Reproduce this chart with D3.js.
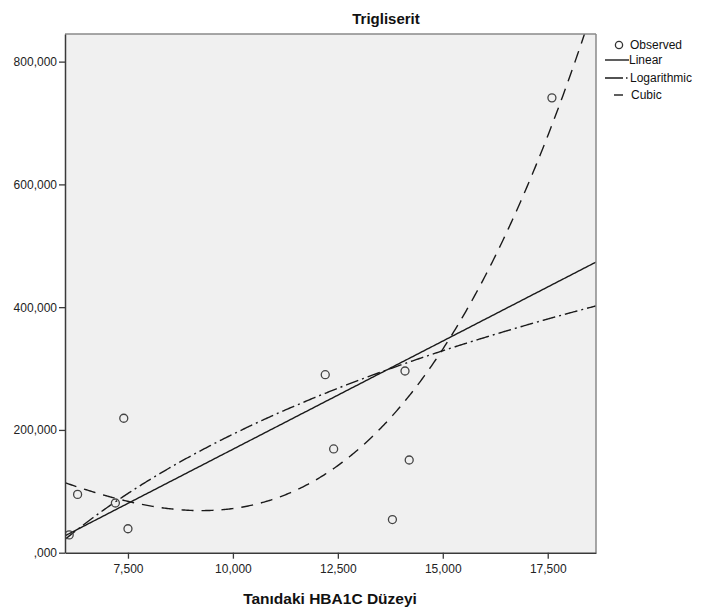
<!DOCTYPE html>
<html><head><meta charset="utf-8">
<script src="https://cdn.jsdelivr.net/npm/d3@7"></script>
<style>body{margin:0;background:#fff}svg{display:block}text{font-family:"Liberation Sans",Arial,sans-serif}</style>
</head><body><svg id="c" width="705" height="615"></svg>
<script>
// Observed data (HbA1c vs triglyceride)
const hba1c = [6.1, 6.3, 7.2, 7.4, 7.5, 12.2, 12.4, 13.8, 14.1, 14.2, 17.6];
const trig  = [29, 95, 81, 219, 39, 290, 169, 54, 296, 151, 741];
const xTicks = [7.5, 10, 12.5, 15, 17.5];
const yTicks = [0, 200, 400, 600, 800];
const legendItems = ["Observed", "Linear", "Logarithmic", "Cubic"];
const titleText = "Trigliserit";
const xTitle = "Tanıdaki HBA1C Düzeyi";

const svg = d3.select("#c");
const L = 65, R = 596, T = 34, B = 552.7;
const x = d3.scaleLinear().domain([6.0, 18.65]).range([L, R]);
const y = d3.scaleLinear().domain([0, 845]).range([B, T]);

const loc = d3.formatLocale({decimal: ",", thousands: ".", grouping: [3], currency: ["", ""]});
const f3 = loc.format(".3f");
const fmt = v => { const s = f3(v); return s.startsWith("0,") ? s.slice(1) : s; };

// least squares fit: basis functions
function fit(basis) {
  const n = basis.length;
  const A = Array.from({length: n}, () => new Array(n + 1).fill(0));
  hba1c.forEach((xv, i) => {
    const row = basis.map(b => b(xv));
    for (let r = 0; r < n; r++) {
      for (let c = 0; c < n; c++) A[r][c] += row[r] * row[c];
      A[r][n] += row[r] * trig[i];
    }
  });
  for (let p = 0; p < n; p++) {
    let m = p;
    for (let r = p + 1; r < n; r++) if (Math.abs(A[r][p]) > Math.abs(A[m][p])) m = r;
    [A[p], A[m]] = [A[m], A[p]];
    for (let r = 0; r < n; r++) if (r !== p) {
      const k = A[r][p] / A[p][p];
      for (let c = p; c <= n; c++) A[r][c] -= k * A[p][c];
    }
  }
  const coef = A.map((row, i) => row[n] / row[i]);
  return xv => basis.reduce((s, b, i) => s + coef[i] * b(xv), 0);
}
const linF = fit([v => 1, v => v]);
const logF = fit([v => 1, v => Math.log(v)]);
// cubic model as estimated (linear term dropped for tolerance)
const cubF = fit([v => 1, v => v * v, v => v * v * v]);

// plot background
svg.append("rect").attr("x", L).attr("y", T).attr("width", R - L).attr("height", B - T)
  .attr("fill", "#f0f0f0");

svg.append("defs").append("clipPath").attr("id", "clip")
  .append("rect").attr("x", L).attr("y", T).attr("width", R - L).attr("height", B - T);

const g = svg.append("g").attr("clip-path", "url(#clip)");
const xs = d3.range(0, 401).map(i => x.domain()[0] + (x.domain()[1] - x.domain()[0]) * i / 400);
const line = fn => d3.line().x(d => x(d)).y(d => y(fn(d)))(xs);

g.append("path").attr("d", line(linF)).attr("fill", "none").attr("stroke", "#1a1a1a").attr("stroke-width", 1.4);
g.append("path").attr("d", line(logF)).attr("fill", "none").attr("stroke", "#1a1a1a").attr("stroke-width", 1.4)
  .attr("stroke-dasharray", "13,4,2,4");
g.append("path").attr("d", line(cubF)).attr("fill", "none").attr("stroke", "#1a1a1a").attr("stroke-width", 1.4)
  .attr("stroke-dasharray", "12,8");

g.selectAll("circle.obs").data(hba1c).join("circle").attr("class", "obs")
  .attr("cx", d => x(d)).attr("cy", (d, i) => y(trig[i])).attr("r", 4)
  .attr("fill", "none").attr("stroke", "#444").attr("stroke-width", 1.3);

// frame: top/right lighter
svg.append("line").attr("x1", L).attr("x2", R).attr("y1", T).attr("y2", T).attr("stroke", "#8a8a8a").attr("stroke-width", 1.5);
svg.append("line").attr("x1", R).attr("x2", R).attr("y1", T).attr("y2", B).attr("stroke", "#8a8a8a").attr("stroke-width", 1.5);

// axes
const xAxis = svg.append("g").attr("transform", `translate(0,${B})`)
  .call(d3.axisBottom(x).tickValues(xTicks).tickFormat(fmt).tickSize(6).tickPadding(6).tickSizeOuter(0));
const yAxis = svg.append("g").attr("transform", `translate(${L},0)`)
  .call(d3.axisLeft(y).tickValues(yTicks).tickFormat(fmt).tickSize(6).tickPadding(2).tickSizeOuter(0));
[xAxis, yAxis].forEach(a => {
  a.select(".domain").attr("stroke", "#3a3a3a").attr("stroke-width", 1.5);
  a.selectAll(".tick line").attr("stroke", "#3a3a3a").attr("stroke-width", 1.3);
  a.selectAll("text").attr("font-size", 12).attr("fill", "#222")
    .attr("font-family", "'Liberation Sans', Arial, sans-serif");
});

// titles
svg.append("text").attr("x", 386).attr("y", 24).attr("text-anchor", "middle")
  .attr("font-size", 15).attr("font-weight", "bold").attr("fill", "#111").text(titleText);
svg.append("text").attr("x", 330).attr("y", 604).attr("text-anchor", "middle")
  .attr("font-size", 15.5).attr("font-weight", "bold").attr("fill", "#111").text(xTitle);

// legend
const lg = svg.append("g");
const ly = [45, 60, 78, 95];
lg.append("circle").attr("cx", 619).attr("cy", ly[0]).attr("r", 3.6).attr("fill", "none")
  .attr("stroke", "#333").attr("stroke-width", 1.3);
lg.append("line").attr("x1", 605).attr("x2", 629).attr("y1", ly[1]).attr("y2", ly[1]).attr("stroke", "#1a1a1a").attr("stroke-width", 1.4);
lg.append("line").attr("x1", 605).attr("x2", 629).attr("y1", ly[2]).attr("y2", ly[2]).attr("stroke", "#1a1a1a").attr("stroke-width", 1.4)
  .attr("stroke-dasharray", "18,3,1.5,4");
lg.append("line").attr("x1", 614).attr("x2", 623).attr("y1", ly[3]).attr("y2", ly[3]).attr("stroke", "#1a1a1a").attr("stroke-width", 1.4);
const lx = [630, 629, 630, 631];
lg.selectAll("text").data(legendItems).join("text")
  .attr("x", (d, i) => lx[i]).attr("y", (d, i) => ly[i] + 4)
  .attr("font-size", 12).attr("fill", "#111").text(d => d);
</script></body></html>
